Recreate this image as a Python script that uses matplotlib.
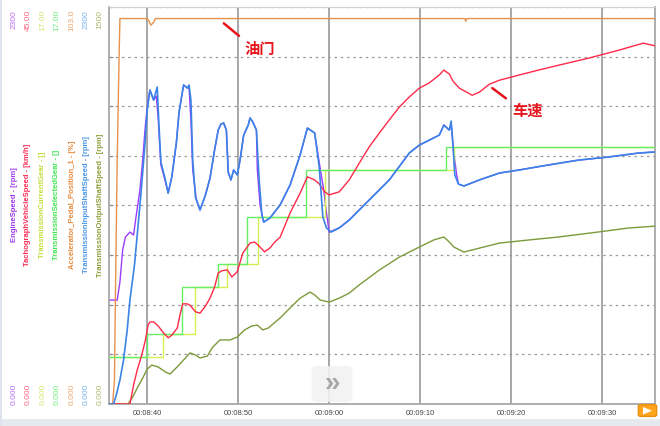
import matplotlib
matplotlib.use('Agg')
import matplotlib.pyplot as plt
from matplotlib.patches import FancyBboxPatch, Polygon, Rectangle

plt.rcParams['font.family'] = ['Liberation Sans', 'DejaVu Sans']

# time = seconds after 08:00:00
engine_speed = [(515.8, 602), (516.7, 602), (517.0, 707), (517.3, 892), (517.6, 967), (518.1, 996),
                (518.5, 979), (518.8, 1095), (519.2, 1240), (519.5, 1413), (519.8, 1616), (520.1, 1761),
                (520.3, 1819), (520.7, 1761), (521.0, 1784), (521.2, 1657), (521.5, 1385), (522.0, 1286),
                (522.3, 1222), (522.7, 1315), (523.2, 1512), (523.5, 1692), (524.0, 1848), (524.4, 1831),
                (524.6, 1831), (524.8, 1645), (525.0, 1356), (525.4, 1182), (525.8, 1124), (526.4, 1211),
                (526.9, 1309), (527.4, 1471), (527.8, 1587), (528.1, 1622), (528.4, 1628), (528.7, 1587),
                (528.9, 1344), (529.2, 1298), (529.5, 1356), (529.9, 1327), (530.2, 1413), (530.6, 1558),
                (531.1, 1616), (531.3, 1657), (531.6, 1634), (532.0, 1587), (532.1, 1356), (532.4, 1153),
                (532.8, 1054), (533.5, 1078), (534.6, 1153), (535.7, 1269), (536.8, 1442), (537.6, 1599),
                (538.4, 1570), (538.9, 1400), (539.4, 1240), (539.7, 1107), (540.0, 996), (541.1, 1020),
                (542.2, 1066), (544.4, 1182), (546.6, 1298), (548.8, 1454), (549.9, 1500), (552.1, 1558),
                (552.6, 1616), (553.2, 1587), (553.4, 1620), (553.7, 1450), (554.0, 1330), (554.2, 1274),
                (554.8, 1263), (556.5, 1298), (558.7, 1338), (560.9, 1356), (564.1, 1385), (567.4, 1413),
                (570.7, 1431), (574.0, 1454), (575.8, 1460)]

input_shaft = [(515.8, 0), (516.3, 0), (516.6, 52), (517.0, 139), (517.4, 255), (517.8, 429), (518.1, 602),
               (518.6, 805), (519.0, 1037), (519.3, 1211), (519.7, 1471), (520.0, 1703), (520.3, 1819),
               (520.7, 1761), (521.1, 1836), (521.3, 1605), (521.5, 1402), (522.0, 1298), (522.3, 1222),
               (522.7, 1315), (523.2, 1512), (523.5, 1692), (524.0, 1848), (524.4, 1831), (524.6, 1848),
               (524.8, 1761), (525.0, 1413), (525.3, 1199), (525.8, 1124), (526.4, 1211), (526.9, 1309),
               (527.4, 1471), (527.8, 1587), (528.1, 1622), (528.4, 1628), (528.7, 1587), (528.9, 1344),
               (529.2, 1298), (529.5, 1356), (529.9, 1327), (530.2, 1413), (530.6, 1558), (531.1, 1616),
               (531.3, 1657), (531.6, 1634), (532.0, 1587), (532.3, 1298), (532.6, 1095), (532.8, 1054),
               (533.5, 1078), (534.6, 1153), (535.7, 1269), (536.8, 1442), (537.6, 1599), (538.4, 1570),
               (538.9, 1373), (539.3, 1083), (539.7, 1020), (540.2, 996), (541.1, 1020), (542.2, 1066),
               (544.4, 1182), (546.6, 1298), (548.8, 1454), (549.9, 1500), (552.1, 1558), (552.6, 1616),
               (553.2, 1587), (553.4, 1639), (553.6, 1500), (553.8, 1327), (554.2, 1274), (554.8, 1263),
               (556.5, 1298), (558.7, 1338), (560.9, 1356), (564.1, 1385), (567.4, 1413), (570.7, 1431),
               (574.0, 1454), (575.8, 1460)]

vehicle_speed = [(515.8, 0), (518.1, 0), (518.5, 2.15), (518.9, 3.85), (519.4, 5.55), (519.8, 7.25),
                 (520.1, 8.95), (520.3, 9.3), (520.7, 9.3), (521.2, 8.85), (521.8, 8.05), (522.3, 7.5),
                 (522.7, 7.8), (523.3, 8.6), (523.6, 10.1), (523.9, 11.35), (524.4, 11.35), (524.7, 11.2),
                 (525.3, 10.45), (525.8, 10.3), (526.4, 11.1), (526.9, 12.0), (527.4, 13.25), (527.8, 14.85),
                 (528.2, 15.1), (528.8, 15.2), (529.3, 14.4), (529.9, 15.0), (530.5, 17.1), (531.3, 18.25),
                 (531.8, 18.35), (532.2, 18.0), (532.9, 17.25), (533.5, 17.7), (534.0, 18.35), (534.6, 18.9),
                 (535.7, 21.65), (536.8, 23.9), (537.6, 25.75), (538.4, 25.4), (538.9, 24.95), (539.5, 24.05),
                 (540.0, 23.7), (541.1, 24.05), (542.2, 25.4), (543.3, 27.3), (544.4, 29.15), (545.5, 30.7),
                 (546.6, 32.2), (547.7, 33.65), (548.8, 34.8), (549.9, 35.8), (551.0, 36.4), (552.1, 37.3),
                 (552.6, 37.85), (553.2, 37.4), (553.6, 36.6), (554.3, 35.8), (555.1, 35.35), (555.7, 35.0),
                 (556.5, 35.35), (557.6, 36.25), (558.7, 36.7), (560.9, 37.3), (563.0, 37.85), (565.2, 38.4),
                 (568.5, 39.2), (571.8, 40.1), (574.5, 40.9), (575.8, 40.6)]

output_shaft = [(515.8, 0), (517.9, 0), (518.4, 26), (518.9, 60), (519.5, 98), (520.0, 132), (520.5, 147),
                (521.2, 140), (522.0, 121), (522.5, 113), (523.4, 144), (524.2, 174), (524.7, 193),
                (525.3, 185), (525.8, 174), (526.6, 181), (527.2, 215), (528.0, 242), (529.1, 242),
                (529.9, 253), (530.7, 280), (531.5, 295), (532.1, 298), (532.7, 280), (533.3, 287),
                (534.6, 325), (535.7, 363), (536.8, 400), (537.9, 423), (538.4, 412), (539.0, 393),
                (540.0, 385), (541.1, 400), (542.2, 419), (543.3, 450), (545.5, 506), (547.7, 555),
                (549.9, 593), (551.5, 620), (552.6, 631), (553.2, 612), (553.7, 593), (554.8, 574),
                (556.5, 589), (558.7, 608), (562.0, 620), (565.2, 631), (569.6, 650), (572.9, 665),
                (575.8, 672)]

pedal = [(515.8, 0), (516.2, 0), (516.4, 6.2), (516.5, 27), (516.7, 63), (516.9, 89), (517.0, 100),
         (520.0, 100), (520.2, 99.3), (520.4, 98.3), (520.7, 99), (520.9, 100), (554.9, 100),
         (555.0, 99.3), (555.1, 100), (575.8, 100)]

selected_gear = [(515.8, 2), (520.0, 3), (523.8, 5), (527.8, 6), (531.0, 8), (537.5, 10), (552.8, 11), (575.8, 11)]
current_gear = [(515.8, 2), (521.75, 3), (525.3, 5), (528.8, 6), (532.2, 8), (539.5, 10), (553.7, 11), (575.8, 11)]

x_ticks = [520, 530, 540, 550, 560, 570]
x_labels = ['00:08:40', '00:08:50', '00:09:00', '00:09:10', '00:09:20', '00:09:30']

# name, unit max, top label, line colour, text colour
channels = [
    ('EngineSpeed - [rpm]', 2300, '2300', '#9b3cff', '#a03cf0'),
    ('TachographVehicleSpeed - [km/h]', 45, '45.00', '#ff2a48', '#ff2d55'),
    ('TransmissionCurrentGear - []', 17, '17.00', '#d2f050', '#bfe03a'),
    ('TransmissionSelectedGear - []', 17, '17.00', '#66ee66', '#3ee650'),
    ('Accelerator_Pedal_Position_1 - [%]', 103, '103.0', '#e8914a', '#e88a3c'),
    ('TransmissionInputShaftSpeed - [rpm]', 2300, '2300', '#3a84e6', '#4a96e6'),
    ('TransmissionOutputShaftSpeed - [rpm]', 1500, '1500', '#7d9a3a', '#8ca03c'),
]
series = [engine_speed, vehicle_speed, current_gear, selected_gear, pedal, input_shaft, output_shaft]
# twin axes stacked in this order above the engine speed axis
twin_order = [4, 6, 2, 3, 1, 5]

W, H = 660, 426
fig = plt.figure(figsize=(W / 100, H / 100), dpi=100)
fig.patch.set_facecolor('white')
ax = fig.add_axes([109 / W, 22 / H, 546 / W, 397 / H])
ax.set_zorder(0)
ax.set_xlim(515.8, 575.8)
ax.set_ylim(0, 2300)
ax.set_yticks([2300 / 8 * i for i in range(9)])
ax.set_yticklabels([])
ax.tick_params(axis='y', direction='in', length=3, color='#888888')
ax.set_xticks(x_ticks)
ax.set_xticklabels(x_labels, fontsize=5.5, color='#444444')
ax.tick_params(axis='x', length=0, pad=4)
ax.grid(axis='y', color='#9a9a9a', linestyle=(0, (2, 3)), linewidth=0.9)
ax.grid(axis='x', color='#a0a0a0', linestyle='-', linewidth=1.3)
for side in ['left', 'bottom', 'right']:
    ax.spines[side].set_color('#a8a8a8')
    ax.spines[side].set_linewidth(1.3)
ax.spines['top'].set_color('#d0d0d0')

axes = {0: ax}
ax.plot([p[0] for p in engine_speed], [p[1] for p in engine_speed], color=channels[0][3], linewidth=1.0)
for z, i in enumerate(twin_order):
    a = ax.twinx()
    a.set_zorder(z + 1)
    a.set_ylim(0, channels[i][1])
    a.set_axis_off()
    style = 'steps-post' if i in (2, 3) else 'default'
    lw = 1.2 if i == 5 else 1.0
    a.plot([p[0] for p in series[i]], [p[1] for p in series[i]], color=channels[i][3],
           linewidth=lw, drawstyle=style)
    axes[i] = a

# left side channel labels
cols = [14, 28, 43, 57, 72, 86, 100]
for (name, vmax, top, lc, tc), cx in zip(channels, cols):
    fig.text(cx / W, 1 - 10 / H, top, rotation=90, ha='center', va='top', fontsize=6, color=tc, alpha=0.75)
    fig.text(cx / W, 1 - 405 / H, '0.000', rotation=90, ha='center', va='bottom', fontsize=6, color=tc, alpha=0.75)
    fig.text(cx / W, 1 - 205 / H, name, rotation=90, ha='center', va='center', fontsize=5.5,
             color=tc, fontweight='bold')

red = '#e8141c'
axes[4].annotate('油门', xy=(528.3, 99), xytext=(16, -19), textcoords='offset points',
                 ha='left', va='center', fontsize=11, fontweight='bold', color=red,
                 family=['Noto Sans CJK SC', 'DejaVu Sans'], annotation_clip=False,
                 arrowprops=dict(arrowstyle='-', color=red, lw=1.8, shrinkA=3, shrinkB=1, relpos=(0, 1)))
axes[1].annotate('车速', xy=(557.8, 35.9), xytext=(15, -17), textcoords='offset points',
                 ha='left', va='center', fontsize=11, fontweight='bold', color=red,
                 family=['Noto Sans CJK SC', 'DejaVu Sans'], annotation_clip=False,
                 arrowprops=dict(arrowstyle='-', color=red, lw=1.8, shrinkA=3, shrinkB=1, relpos=(0, 1)))

# viewer widgets
fig.patches.append(FancyBboxPatch((313 / W, 1 - 401 / H), 38 / W, 34 / H,
                                  boxstyle='round,pad=0.002,rounding_size=0.008',
                                  transform=fig.transFigure, facecolor='#f2f2f2', edgecolor='none',
                                  alpha=0.9, zorder=20))
fig.text(332 / W, 1 - 384 / H, '»', ha='center', va='center', fontsize=20, fontweight='bold',
         color='#a8a8a8', zorder=21)
fig.patches.append(FancyBboxPatch((639 / W, 1 - 416 / H), 17 / W, 11 / H,
                                  boxstyle='round,pad=0.001,rounding_size=0.004',
                                  transform=fig.transFigure, facecolor='#ffa41c', edgecolor='#e89010',
                                  zorder=20))
fig.patches.append(Polygon([(643 / W, 1 - 407 / H), (643 / W, 1 - 414.5 / H), (652 / W, 1 - 410.7 / H)],
                           closed=True, transform=fig.transFigure, facecolor='white', edgecolor='none',
                           zorder=21))
fig.patches.append(Rectangle((0, 0), 1, 7 / H, transform=fig.transFigure,
                             facecolor='#e6e9ee', edgecolor='none', zorder=0))
fig.patches.append(Rectangle((0, 0), 2 / W, 1, transform=fig.transFigure,
                             facecolor='#dfe4ec', edgecolor='none', zorder=0))

fig.savefig('out.png', dpi=100)
